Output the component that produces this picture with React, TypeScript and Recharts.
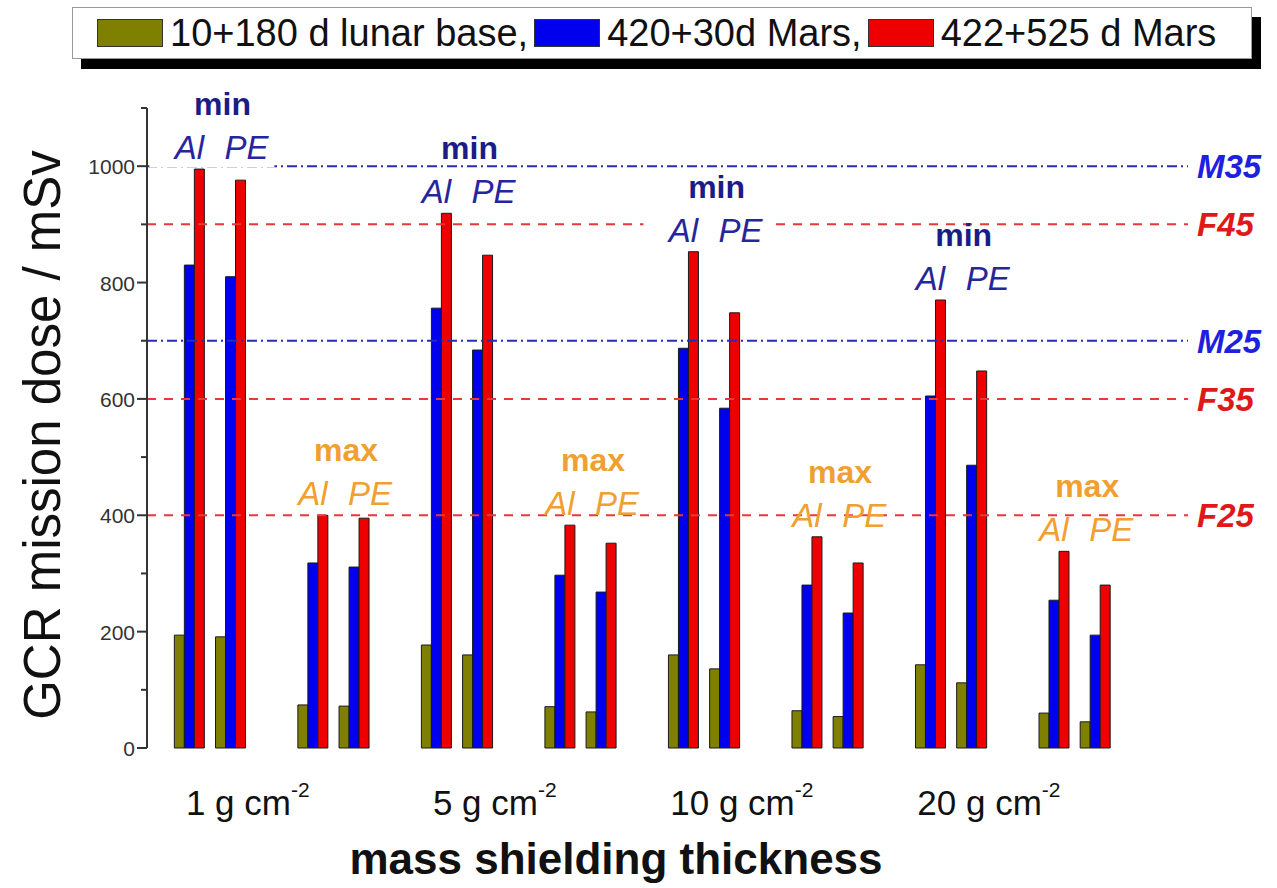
import React from 'react';
import { BarChart, Bar, XAxis, YAxis, ReferenceLine, Legend, LabelList } from 'recharts';

const THICKNESS = ['1', '5', '10', '20'];
const CASES = ['min-Al', 'min-PE', 'max-Al', 'max-PE'];
const SERIES_NAMES = ['10+180 d lunar base,', '420+30d Mars,', '422+525 d Mars'];

// per thickness: min Al, min PE, max Al, max PE (mSv)
const LUNAR = [194, 191, 74, 72, 177, 160, 71, 62, 160, 136, 64, 54, 143, 112, 60, 45];
const MARS_SHORT = [830, 810, 318, 311, 756, 684, 297, 268, 687, 584, 280, 232, 605, 486, 254, 194];
const MARS_LONG = [995, 976, 400, 395, 919, 847, 383, 352, 853, 748, 363, 318, 770, 648, 338, 280];

const Y_TICKS = [0, 100, 200, 300, 400, 500, 600, 700, 800, 900, 1000, 1100];
const LIMIT_NAMES = ['M35', 'M25', 'F45', 'F35', 'F25'];
const LIMIT_VALUES = [1000, 700, 900, 600, 400];

const FONT = '"Liberation Sans", Arial, sans-serif';
const COLORS = ['#7f7f00', '#0000ee', '#ee0000'];

// one slot per bar group, with an empty slot between min/max and between thicknesses
const TABLE: any[] = [];
THICKNESS.forEach((t, g) => {
  CASES.forEach((c, k) => {
    const i = g * 4 + k;
    const p = g * 4 + (k < 2 ? 0 : 2);
    const [kind, mat] = c.split('-');
    TABLE.push({
      id: `${t}-${c}`,
      thick: k === 1 ? t : null,
      kind,
      mat,
      lunar: LUNAR[i],
      marsShort: MARS_SHORT[i],
      marsLong: MARS_LONG[i],
      pairTop: Math.max(MARS_LONG[p], MARS_LONG[p + 1]),
    });
    if (k === 1 || (k === 3 && g < THICKNESS.length - 1)) TABLE.push({ id: `${t}-gap-${k}` });
  });
});
const BY_ID: Record<string, any> = {};
TABLE.forEach((r) => (BY_ID[r.id] = r));

function Annotation(props: any) {
  const row = BY_ID[props.value];
  if (!row || row.marsLong == null) return null;
  const vb = props.viewBox || props;
  const { x, y, width, height } = vb;
  if (!height) return null;
  const top = y + height - (row.pairTop * height) / row.marsLong;
  const center = x - width / 2;
  const isMin = row.kind === 'min';
  const txt = isMin ? '#26269c' : '#f0a030';
  const head = isMin ? '#1c1c86' : '#f0a030';
  if (row.mat === 'Al') {
    return (
      <g>
        {isMin && <rect x={center - 40} y={top - 38} width={125} height={36} fill="#fff" />}
        <text x={center} y={top - 10} textAnchor="middle" fontFamily={FONT} fontSize={33} fontStyle="italic" fill={txt}>
          Al
        </text>
      </g>
    );
  }
  return (
    <g>
      <text x={center - 6} y={top - 10} textAnchor="start" fontFamily={FONT} fontSize={33} fontStyle="italic" fill={txt}>
        PE
      </text>
      <text x={center - 8} y={top - 54} textAnchor="middle" fontFamily={FONT} fontSize={32} fontWeight="bold" fill={head}>
        {row.kind}
      </text>
    </g>
  );
}

function XTick(props: any) {
  const row = BY_ID[props.payload?.value];
  if (!row || !row.thick) return null;
  return (
    <text x={props.x + 17} y={props.y + 67} textAnchor="middle" fontFamily={FONT} fontSize={35} fill="#111">
      {row.thick} g cm
      <tspan fontSize={21} dy={-18}>-2</tspan>
    </text>
  );
}

function YTick(props: any) {
  const v = props.payload?.value;
  const major = v % 200 === 0;
  return (
    <g>
      <line x1={props.x - (major ? 10 : 6)} x2={props.x} y1={props.y} y2={props.y} stroke="#333" strokeWidth={2} />
      {major && v <= 1000 && (
        <text x={props.x - 12} y={props.y + 8} textAnchor="end" fontFamily={FONT} fontSize={21} fill="#333">
          {v}
        </text>
      )}
    </g>
  );
}

function LegendBox(props: any) {
  const items = props.payload || [];
  return (
    <div
      style={{
        display: 'inline-flex',
        alignItems: 'center',
        height: 50,
        padding: '0 35px 0 24px',
        background: '#fff',
        border: '1px solid #999',
        boxShadow: '9px 10px 0 #000',
        fontFamily: FONT,
        fontSize: 38,
        color: '#111',
        whiteSpace: 'nowrap',
      }}
    >
      {items.map((p: any, i: number) => (
        <span key={p.value} style={{ display: 'inline-flex', alignItems: 'center', marginRight: i < items.length - 1 ? 6 : 0 }}>
          <span style={{ width: 64, height: 26, background: p.color, border: '1px solid #333', marginRight: 7 }} />
          {p.value}
        </span>
      ))}
    </div>
  );
}

function LimitLabel(name: string, color: string) {
  return (p: any) => (
    <text
      x={p.viewBox.x + p.viewBox.width + 9}
      y={p.viewBox.y + 12}
      fontFamily={FONT}
      fontSize={33}
      fontWeight="bold"
      fontStyle="italic"
      fill={color}
    >
      {name}
    </text>
  );
}

export default function App() {
  const keys = ['lunar', 'marsShort', 'marsLong'];
  return (
    <div style={{ position: 'absolute', left: 0, top: 0, background: '#fff' }}>
      <BarChart
        width={1277}
        height={888}
        data={TABLE}
        margin={{ top: 108, right: 89, bottom: 0, left: 0 }}
        barCategoryGap="13%"
        barGap={0}
      >
        <XAxis
          dataKey="id"
          interval={0}
          height={140}
          axisLine={false}
          tickLine={false}
          tickSize={0}
          tickMargin={0}
          padding={{ left: 22, right: 72 }}
          tick={<XTick />}
          label={() => (
            <text x={616} y={874} textAnchor="middle" fontFamily={FONT} fontSize={44} fontWeight="bold" fill="#111">
              mass shielding thickness
            </text>
          )}
        />
        <YAxis
          width={147}
          domain={[0, 1100]}
          ticks={Y_TICKS}
          interval={0}
          tickLine={false}
          tickSize={0}
          tickMargin={0}
          axisLine={{ stroke: '#333', strokeWidth: 2 }}
          tick={<YTick />}
          label={() => (
            <text
              x={42}
              y={435}
              transform="rotate(-90 42 435)"
              textAnchor="middle"
              dominantBaseline="central"
              fontFamily={FONT}
              fontSize={51}
              fill="#111"
            >
              GCR mission dose / mSv
            </text>
          )}
        />
        <Legend
          layout="horizontal"
          verticalAlign="middle"
          align="center"
          wrapperStyle={{ top: 7, left: 72, width: 'auto' }}
          content={<LegendBox />}
        />
        {keys.map((k, i) => (
          <Bar
            key={k}
            dataKey={k}
            name={SERIES_NAMES[i]}
            fill={COLORS[i]}
            stroke="#1a1a1a"
            strokeWidth={1}
            isAnimationActive={false}
          >
            {i === 2 && <LabelList dataKey="id" content={<Annotation />} />}
          </Bar>
        ))}
        {LIMIT_NAMES.map((n, i) => {
          const isM = n.startsWith('M');
          return (
            <ReferenceLine
              key={n}
              y={LIMIT_VALUES[i]}
              stroke={isM ? '#2a2ab8' : '#e83838'}
              strokeWidth={2}
              strokeDasharray={isM ? '10 4 2 4' : '9 8'}
              label={LimitLabel(n, isM ? '#1f1fe0' : '#e01818')}
            />
          );
        })}
      </BarChart>
    </div>
  );
}
